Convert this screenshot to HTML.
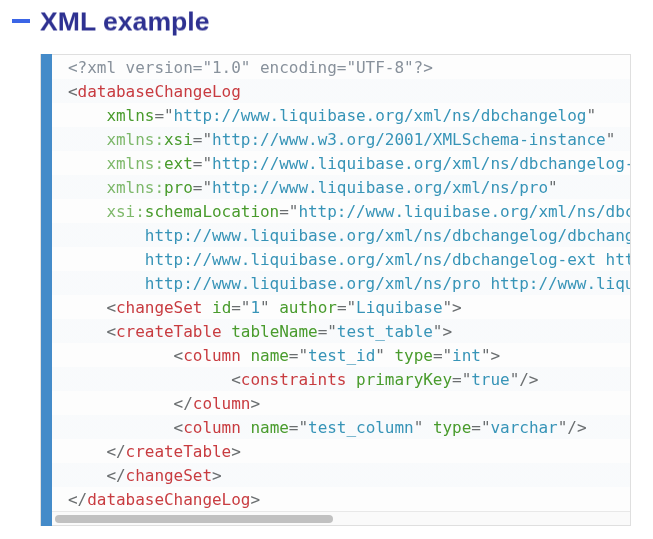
<!DOCTYPE html>
<html lang="en">
<head>
<meta charset="utf-8">
<title>XML example</title>
<style>
html, body { margin: 0; padding: 0; background: #ffffff; }
body { width: 653px; height: 539px; position: relative; overflow: hidden; font-family: "Liberation Sans", Arial, sans-serif; }
.dash { position: absolute; left: 12px; top: 19px; width: 18px; height: 4px; background: #3b65e6; }
h2 { position: absolute; left: 40px; top: 6px; transform: translateY(0.5px) rotate(0.01deg); margin: 0; font-size: 26.6px; line-height: 30px; font-weight: bold; color: #2e3191; white-space: nowrap; letter-spacing: 0; will-change: transform; }
.box { position: absolute; left: 41px; top: 55px; width: 589px; height: 470px; box-shadow: 0 0 0 1px #dfdfdf; background: #fdfdfd; }
.bar { position: absolute; left: 0; top: -1px; width: 11px; height: 472px; background: #448bc9; }
.view { position: absolute; left: 11px; top: 0; width: 578px; height: 456px; overflow: hidden;
  background-color: #fdfdfd;
  background-image: linear-gradient(transparent 50%, rgba(69,142,209,0.025) 50%);
  background-size: 48px 48px; }
pre { margin: 0; padding: 0 16px; position: relative; top: 1px; font-family: "DejaVu Sans Mono", "Liberation Mono", monospace; font-size: 16px; line-height: 24px; color: #000; white-space: pre; letter-spacing: -0.033px; }
pre code { font: inherit; display: block; opacity: .94; will-change: transform; }
.pl { color: #808a95; }
.p { color: #616567; }
.t { color: #c52f34; }
.a { color: #3d951f; }
.n { opacity: .7; }
.v { color: #2a8db3; }
.track { position: absolute; left: 11px; top: 456px; width: 578px; height: 14px; background: #fafafa; border-top: 1px solid #e8e8e8; box-sizing: border-box; }
.thumb { position: absolute; left: 3px; top: 3px; width: 278px; height: 8px; border-radius: 4px; background: #c1c1c1; }
</style>
</head>
<body>
<div class="dash"></div>
<h2>XML example</h2>
<div class="box">
<div class="bar"></div>
<div class="view"><pre><code><span class="pl">&lt;?xml version="1.0" encoding="UTF-8"?&gt;</span>
<span class="p">&lt;</span><span class="t">databaseChangeLog</span>
    <span class="a">xmlns</span><span class="p">="</span><span class="v">http://www.liquibase.org/xml/ns/dbchangelog</span><span class="p">"</span>
    <span class="a"><span class="n">xmlns:</span>xsi</span><span class="p">="</span><span class="v">http://www.w3.org/2001/XMLSchema-instance</span><span class="p">"</span>
    <span class="a"><span class="n">xmlns:</span>ext</span><span class="p">="</span><span class="v">http://www.liquibase.org/xml/ns/dbchangelog-ext</span><span class="p">"</span>
    <span class="a"><span class="n">xmlns:</span>pro</span><span class="p">="</span><span class="v">http://www.liquibase.org/xml/ns/pro</span><span class="p">"</span>
    <span class="a"><span class="n">xsi:</span>schemaLocation</span><span class="p">="</span><span class="v">http://www.liquibase.org/xml/ns/dbchangelog
        http://www.liquibase.org/xml/ns/dbchangelog/dbchangelog-latest.xsd
        http://www.liquibase.org/xml/ns/dbchangelog-ext http://www.liquibase.org/xml/ns/dbchangelog/dbchangelog-ext.xsd
        http://www.liquibase.org/xml/ns/pro http://www.liquibase.org/xml/ns/pro/liquibase-pro-latest.xsd</span><span class="p">"&gt;</span>
    <span class="p">&lt;</span><span class="t">changeSet</span> <span class="a">id</span><span class="p">="</span><span class="v">1</span><span class="p">"</span> <span class="a">author</span><span class="p">="</span><span class="v">Liquibase</span><span class="p">"&gt;</span>
    <span class="p">&lt;</span><span class="t">createTable</span> <span class="a">tableName</span><span class="p">="</span><span class="v">test_table</span><span class="p">"&gt;</span>
           <span class="p">&lt;</span><span class="t">column</span> <span class="a">name</span><span class="p">="</span><span class="v">test_id</span><span class="p">"</span> <span class="a">type</span><span class="p">="</span><span class="v">int</span><span class="p">"&gt;</span>
                 <span class="p">&lt;</span><span class="t">constraints</span> <span class="a">primaryKey</span><span class="p">="</span><span class="v">true</span><span class="p">"/&gt;</span>
           <span class="p">&lt;/</span><span class="t">column</span><span class="p">&gt;</span>
           <span class="p">&lt;</span><span class="t">column</span> <span class="a">name</span><span class="p">="</span><span class="v">test_column</span><span class="p">"</span> <span class="a">type</span><span class="p">="</span><span class="v">varchar</span><span class="p">"/&gt;</span>
    <span class="p">&lt;/</span><span class="t">createTable</span><span class="p">&gt;</span>
    <span class="p">&lt;/</span><span class="t">changeSet</span><span class="p">&gt;</span>
<span class="p">&lt;/</span><span class="t">databaseChangeLog</span><span class="p">&gt;</span></code></pre></div>
<div class="track"><div class="thumb"></div></div>
</div>
</body>
</html>
